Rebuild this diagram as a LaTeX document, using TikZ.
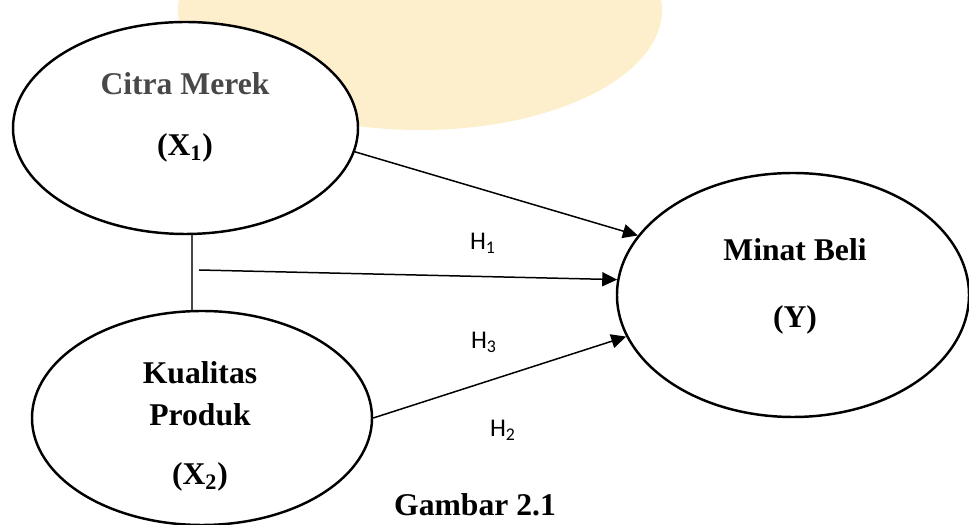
\documentclass[tikz,border=0pt]{standalone}
\usepackage{fontspec}
\setmainfont{Liberation Serif}
\newfontfamily\hypfont{Carlito}
\usetikzlibrary{shapes.geometric,arrows.meta}
\definecolor{watermark}{RGB}{254, 239, 204}
\definecolor{greytext}{RGB}{72, 72, 72}
\definecolor{linkgrey}{RGB}{70, 70, 70}

\tikzset{
  latent/.style   = {draw, fill=white, ellipse, line width=1.4pt, inner sep=0pt},
  vartext/.style  = {font=\fontsize{18}{23.8}\selectfont\bfseries, inner sep=0pt, align=center},
  hyptext/.style  = {font=\hypfont\fontsize{14.5}{16}\selectfont, inner sep=0pt},
  effect/.style   = {-{Triangle[length=8.5pt,width=8pt]}, line width=0.85pt},
  link/.style     = {color=linkgrey, line width=0.75pt}
}

\begin{document}
\begin{tikzpicture}[x=0.2mm, y=-0.2mm]
            \useasboundingbox (0,0) rectangle (969,525);
            \clip (0,0) rectangle (969,525);
            % watermark
            \fill[watermark] (420,10) ellipse (242 and 120);

            % latent variables
            \node[latent, minimum width=69mm,   minimum height=42.4mm] (cm) at (185.5,128) {};
            \node[latent, minimum width=68mm,   minimum height=42.8mm] (kp) at (202,418)   {};
            \node[latent, minimum width=70.4mm, minimum height=48.8mm] (mb) at (793,295)   {};

            \node[vartext, text=greytext] (cmname) at (185,84)  {Citra Merek};
            \node[vartext]                (cmsym)  at (185,148) {(X\textsubscript{1})};
            \node[vartext]                (kpname) at (200,394) {Kualitas\\Produk};
            \node[vartext]                (kpsym)  at (200,477) {(X\textsubscript{2})};
            \node[vartext]                (mbname) at (795,250) {Minat Beli};
            \node[vartext]                (mbsym)  at (795,320) {(Y)};

            % connectors
            \coordinate (vx) at (192,0);
            \coordinate (h1start) at (199,270);
            \draw[link]   (cm.south -| vx) -- (kp.north -| vx);
            \draw[effect] (cm.-8.3) -- (mb.159);
            \draw[effect] (h1start) -- (mb.175);
            \draw[effect] (kp.east) -- (mb.-166);

            \node[hyptext] (h1) at (483,243) {H\textsubscript{1}};
            \node[hyptext] (h3) at (484,342) {H\textsubscript{3}};
            \node[hyptext] (h2) at (503,430) {H\textsubscript{2}};

            \node[vartext] (caption) at (475,505) {Gambar 2.1};
        \end{tikzpicture}
\end{document}
